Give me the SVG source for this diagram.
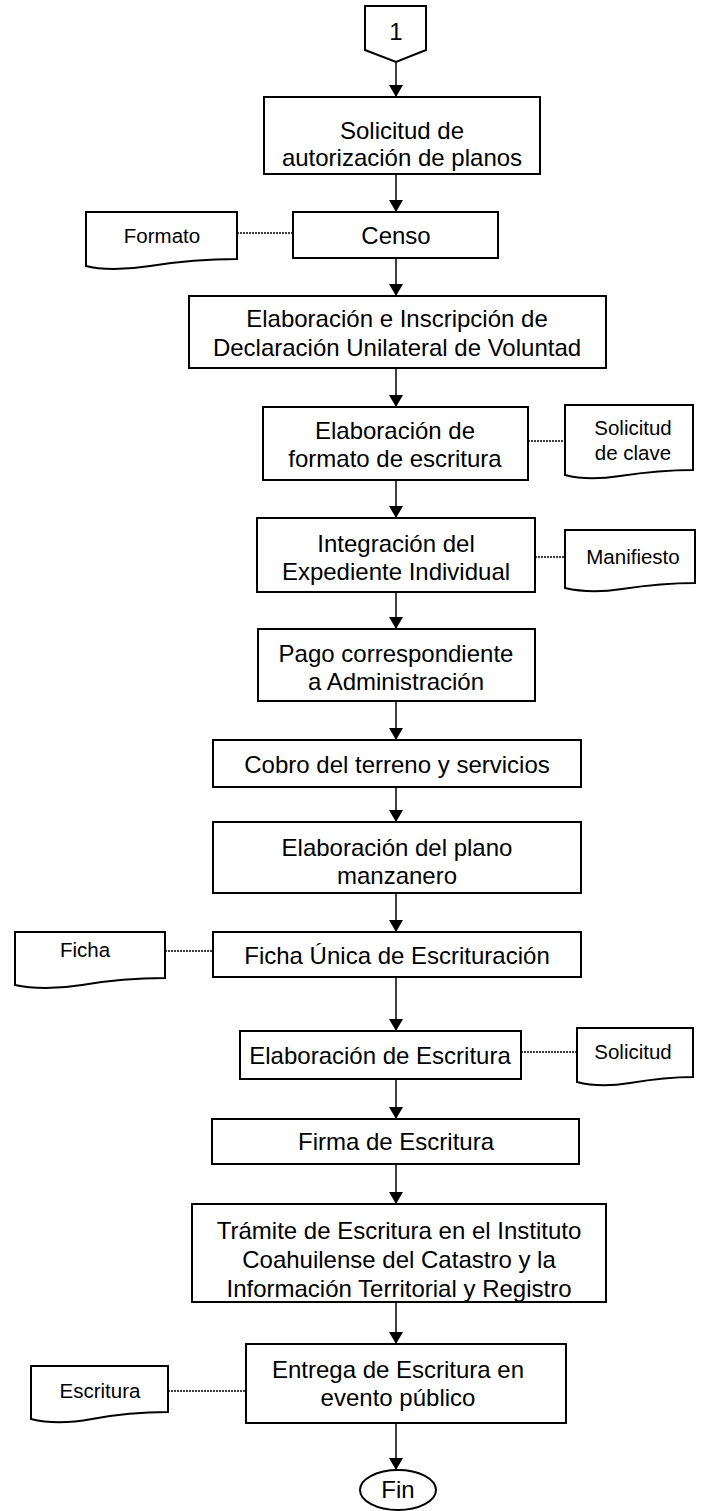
<svg xmlns="http://www.w3.org/2000/svg" width="710" height="1511" viewBox="0 0 710 1511">
<style>
.box{fill:#fff;stroke:#000;stroke-width:2}
.doc{fill:#fff;stroke:#000;stroke-width:2}
.t{font-family:"Liberation Sans",Arial,sans-serif;font-size:24px;fill:#000;text-anchor:middle}
.d{font-family:"Liberation Sans",Arial,sans-serif;font-size:20.5px;fill:#000;text-anchor:middle}
.c{stroke:#000;stroke-width:1.5;fill:none}
.dot{stroke:#000;stroke-width:1.5;stroke-dasharray:2 1;fill:none}
</style>
<defs>
<marker id="ah" viewBox="0 0 12 14" refX="12" refY="7" markerWidth="12" markerHeight="14" markerUnits="userSpaceOnUse" orient="auto">
<path d="M0,0 L12,7 L0,14 Z" fill="#000"/>
</marker>
</defs>
<g id="connectors">
<line class="c" x1="396" y1="62" x2="396" y2="97" marker-end="url(#ah)"/>
<line class="c" x1="396" y1="174" x2="396" y2="212" marker-end="url(#ah)"/>
<line class="c" x1="396" y1="258" x2="396" y2="296" marker-end="url(#ah)"/>
<line class="c" x1="396" y1="368" x2="396" y2="407" marker-end="url(#ah)"/>
<line class="c" x1="396" y1="480" x2="396" y2="518" marker-end="url(#ah)"/>
<line class="c" x1="396" y1="592" x2="396" y2="629" marker-end="url(#ah)"/>
<line class="c" x1="396" y1="701" x2="396" y2="740" marker-end="url(#ah)"/>
<line class="c" x1="396" y1="787" x2="396" y2="822" marker-end="url(#ah)"/>
<line class="c" x1="396" y1="893" x2="396" y2="932" marker-end="url(#ah)"/>
<line class="c" x1="396" y1="977" x2="396" y2="1031" marker-end="url(#ah)"/>
<line class="c" x1="396" y1="1079" x2="396" y2="1119" marker-end="url(#ah)"/>
<line class="c" x1="396" y1="1164" x2="396" y2="1204" marker-end="url(#ah)"/>
<line class="c" x1="396" y1="1302" x2="396" y2="1344" marker-end="url(#ah)"/>
<line class="c" x1="396" y1="1423" x2="396" y2="1470" marker-end="url(#ah)"/>
<line class="dot" x1="237" y1="233" x2="293" y2="233"/>
<line class="dot" x1="528" y1="441" x2="565" y2="441"/>
<line class="dot" x1="535" y1="557" x2="565" y2="557"/>
<line class="dot" x1="165" y1="951" x2="212" y2="951"/>
<line class="dot" x1="521" y1="1052" x2="577" y2="1052"/>
<line class="dot" x1="168" y1="1391" x2="246" y2="1391"/>
</g>
<g id="start">
<path class="box" d="M365,6 H426 V50 L396,62 L365,50 Z"/>
<text class="t" x="396" y="40">1</text>
</g>
<g id="n1">
<rect class="box" x="264" y="97" width="276" height="77"/>
<text class="t" x="402" y="139">Solicitud de</text>
<text class="t" x="402" y="166">autorización de planos</text>
</g>
<g id="doc-formato">
<path class="doc" d="M86,212 H237 V259 C205,259 175,262 150,266 C125,270 100,270 86,266 Z"/>
<text class="d" x="162" y="243">Formato</text>
</g>
<g id="n2">
<rect class="box" x="293" y="212" width="205" height="46"/>
<text class="t" x="396" y="244">Censo</text>
</g>
<g id="n3">
<rect class="box" x="189" y="296" width="417" height="72"/>
<text class="t" x="397" y="327">Elaboración e Inscripción de</text>
<text class="t" x="397" y="356">Declaración Unilateral de Voluntad</text>
</g>
<g id="n4">
<rect class="box" x="263" y="407" width="265" height="73"/>
<text class="t" x="395" y="439">Elaboración de</text>
<text class="t" x="395" y="467">formato de escritura</text>
</g>
<g id="doc-clave">
<path class="doc" d="M565,405 H693 V470 C665,470 640,473 620,476 C600,479 580,479 565,475 Z"/>
<text class="d" x="633" y="435">Solicitud</text>
<text class="d" x="633" y="460">de clave</text>
</g>
<g id="n5">
<rect class="box" x="257" y="518" width="278" height="74"/>
<text class="t" x="396" y="552">Integración del</text>
<text class="t" x="396" y="580">Expediente Individual</text>
</g>
<g id="doc-manifiesto">
<path class="doc" d="M565,530 H695 V583 C667,583 642,586 622,589 C602,592 582,592 565,588 Z"/>
<text class="d" x="633" y="564">Manifiesto</text>
</g>
<g id="n6">
<rect class="box" x="258" y="629" width="277" height="72"/>
<text class="t" x="396" y="662">Pago correspondiente</text>
<text class="t" x="396" y="690">a Administración</text>
</g>
<g id="n7">
<rect class="box" x="213" y="740" width="368" height="47"/>
<text class="t" x="397" y="773">Cobro del terreno y servicios</text>
</g>
<g id="n8">
<rect class="box" x="213" y="822" width="368" height="71"/>
<text class="t" x="397" y="856">Elaboración del plano</text>
<text class="t" x="397" y="884">manzanero</text>
</g>
<g id="doc-ficha">
<path class="doc" d="M15,932 H165 V978 C133,978 105,981 82,985 C58,989 32,989 15,985 Z"/>
<text class="d" x="85" y="957">Ficha</text>
</g>
<g id="n9">
<rect class="box" x="213" y="932" width="368" height="45"/>
<text class="t" x="397" y="964">Ficha Única de Escrituración</text>
</g>
<g id="n10">
<rect class="box" x="240" y="1031" width="281" height="48"/>
<text class="t" x="380" y="1064">Elaboración de Escritura</text>
</g>
<g id="doc-solicitud">
<path class="doc" d="M577,1028 H693 V1077 C669,1077 648,1080 630,1083 C612,1086 592,1086 577,1082 Z"/>
<text class="d" x="633" y="1059">Solicitud</text>
</g>
<g id="n11">
<rect class="box" x="212" y="1119" width="367" height="45"/>
<text class="t" x="396" y="1150">Firma de Escritura</text>
</g>
<g id="n12">
<rect class="box" x="192" y="1204" width="414" height="98"/>
<text class="t" x="399" y="1239">Trámite de Escritura en el Instituto</text>
<text class="t" x="399" y="1268">Coahuilense del Catastro y la</text>
<text class="t" x="399" y="1297">Información Territorial y Registro</text>
</g>
<g id="doc-escritura">
<path class="doc" d="M31,1366 H168 V1412 C139,1412 113,1415 92,1419 C70,1423 47,1423 31,1419 Z"/>
<text class="d" x="100" y="1398">Escritura</text>
</g>
<g id="n13">
<rect class="box" x="246" y="1344" width="320" height="79"/>
<text class="t" x="398" y="1378">Entrega de Escritura en</text>
<text class="t" x="398" y="1406">evento público</text>
</g>
<g id="end">
<ellipse class="box" cx="398" cy="1490" rx="38" ry="20"/>
<text class="t" x="398" y="1498">Fin</text>
</g>
</svg>
